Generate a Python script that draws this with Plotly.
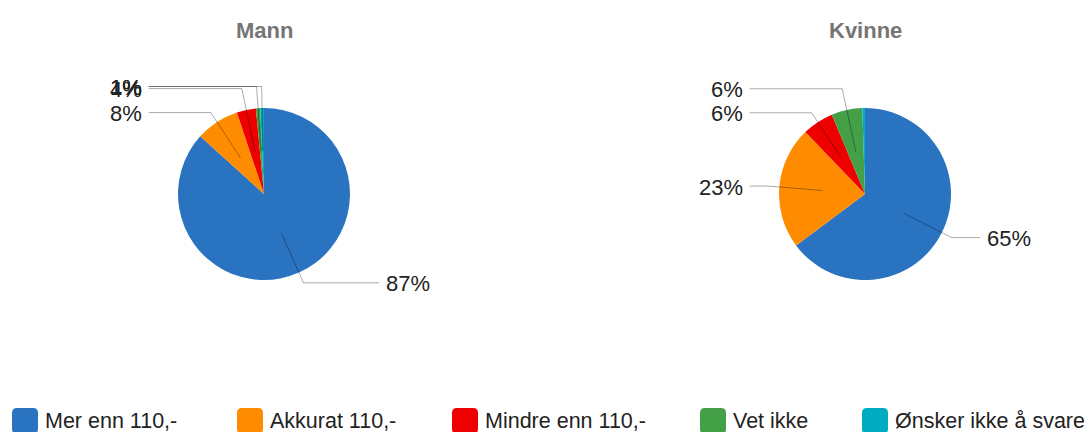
import math
import plotly.graph_objects as go

# ---------------- data ----------------
categories = ["Mer enn 110,-", "Akkurat 110,-", "Mindre enn 110,-", "Vet ikke", "Ønsker ikke å svare"]
groups = ["Mann", "Kvinne"]
mann_values = [86.7, 8.2, 3.6, 0.8, 0.7]
kvinne_values = [64.8, 23.0, 5.9, 5.8, 0.5]
series = [mann_values, kvinne_values]

# ---------------- style / layout ----------------
colors = ["#2A73C0", "#FF8C00", "#EE0000", "#43A047", "#00ACC1"]
W, H = 1092, 432
OFF = 8  # page body margin of the written html
centers = [(264, 194), (865, 194)]
R = 86
FONT = "Liberation Sans, Arial, sans-serif"
LINE_COLOR = "rgba(0,0,0,0.33)"
legend_left = [12, 237, 452, 700, 862]   # legend entry positions (px)
LEGEND_Y = 420
SW = 26  # legend swatch size (px)


def px_x(x):
    return (x - OFF) / W


def px_y(y):
    return 1 - (y - OFF) / H


fig = go.Figure()
shapes = []
annotations = []

for gi, (name, vals) in enumerate(zip(groups, series)):
    cx, cy = centers[gi]
    fig.add_trace(go.Pie(
        labels=categories,
        values=vals,
        name=name,
        sort=False,
        direction="clockwise",
        rotation=0,
        textinfo="none",
        marker=dict(colors=colors, line=dict(width=0)),
        domain=dict(x=[px_x(cx - R), px_x(cx + R)], y=[px_y(cy + R), px_y(cy - R)]),
        showlegend=False,
        hovertemplate="%{label}: %{percent}<extra>" + name + "</extra>",
    ))
    # title
    annotations.append(dict(
        x=px_x(cx), y=px_y(30), xref="paper", yref="paper",
        text="<b>" + name + "</b>", showarrow=False,
        font=dict(family=FONT, size=22, color="#757575"),
        xanchor="center", yanchor="middle",
    ))

    # leader-line labels computed from values
    total = sum(vals)
    cum = 0.0
    items = []
    for v in vals:
        frac_mid = (cum + v / 2) / total
        cum += v
        pct = round(100 * v / total)
        if pct < 1:
            continue
        a = 2 * math.pi * frac_mid
        dx, dy = math.sin(a), -math.cos(a)
        sx, sy = cx + 0.5 * R * dx, cy + 0.5 * R * dy
        ex, ey = cx + 1.13 * R * dx, cy + 1.13 * R * dy
        side = -1 if dx < 0 else 1
        items.append(dict(pct=pct, dx=dx, dy=dy, sx=sx, sy=sy, ex=ex, ey=ey, side=side, ly=ey))

    ymin = cy - 1.25 * R
    ymax = cy + 1.25 * R
    gap = 24
    left = sorted([it for it in items if it["side"] < 0], key=lambda d: -d["ey"])
    prev = None
    for it in left:
        y = it["ey"] if prev is None else min(it["ey"], prev - gap)
        y = max(y, ymin)
        it["ly"] = y
        prev = y
    right = sorted([it for it in items if it["side"] > 0], key=lambda d: d["ey"])
    prev = None
    for it in right:
        y = it["ey"] if prev is None else max(it["ey"], prev + gap)
        y = min(y, ymax)
        it["ly"] = y
        prev = y

    for it in items:
        ly = it["ly"]
        if abs(ly - it["ey"]) > 0.5 and abs(it["dy"]) > 1e-6:
            t = (ly - it["sy"]) / it["dy"]
            bx = it["sx"] + t * it["dx"]
        else:
            bx = it["ex"]
        endx = cx + it["side"] * 1.34 * R
        textx = cx + it["side"] * 1.40 * R
        path = "M {},{} L {},{} L {},{}".format(
            px_x(it["sx"]), px_y(it["sy"]), px_x(bx), px_y(ly), px_x(endx), px_y(ly))
        shapes.append(dict(type="path", path=path, xref="paper", yref="paper",
                           line=dict(color=LINE_COLOR, width=1)))
        annotations.append(dict(
            x=px_x(textx), y=px_y(ly + 1), xref="paper", yref="paper",
            text="{}%".format(it["pct"]), showarrow=False,
            font=dict(family=FONT, size=22, color="#222222"),
            xanchor="right" if it["side"] < 0 else "left", yanchor="middle",
        ))

# ---------------- legend (rounded swatches + labels) ----------------
def rounded_rect(x0, y0, x1, y1, r):
    X = lambda v: px_x(v)
    Y = lambda v: px_y(v)
    return ("M {},{} L {},{} Q {},{} {},{} L {},{} Q {},{} {},{} L {},{} Q {},{} {},{} "
            "L {},{} Q {},{} {},{} Z").format(
        X(x0 + r), Y(y0), X(x1 - r), Y(y0), X(x1), Y(y0), X(x1), Y(y0 + r),
        X(x1), Y(y1 - r), X(x1), Y(y1), X(x1 - r), Y(y1),
        X(x0 + r), Y(y1), X(x0), Y(y1), X(x0), Y(y1 - r),
        X(x0), Y(y0 + r), X(x0), Y(y0), X(x0 + r), Y(y0))


for cat, col, lx in zip(categories, colors, legend_left):
    shapes.append(dict(type="path", xref="paper", yref="paper",
                       path=rounded_rect(lx, LEGEND_Y - 12, lx + SW, LEGEND_Y + 14, 5),
                       fillcolor=col, line=dict(width=0)))
    annotations.append(dict(
        x=px_x(lx + SW + 5), y=px_y(LEGEND_Y + 1), xref="paper", yref="paper",
        text=cat, showarrow=False, xanchor="left", yanchor="middle",
        font=dict(family=FONT, size=21.5, color="#222222"),
    ))

fig.update_layout(
    width=W, height=H,
    margin=dict(l=0, r=0, t=0, b=0, autoexpand=False),
    paper_bgcolor="white",
    plot_bgcolor="white",
    font=dict(family=FONT, size=22, color="#222222"),
    shapes=shapes,
    annotations=annotations,
    showlegend=False,
)

fig.write_html("out.html")
